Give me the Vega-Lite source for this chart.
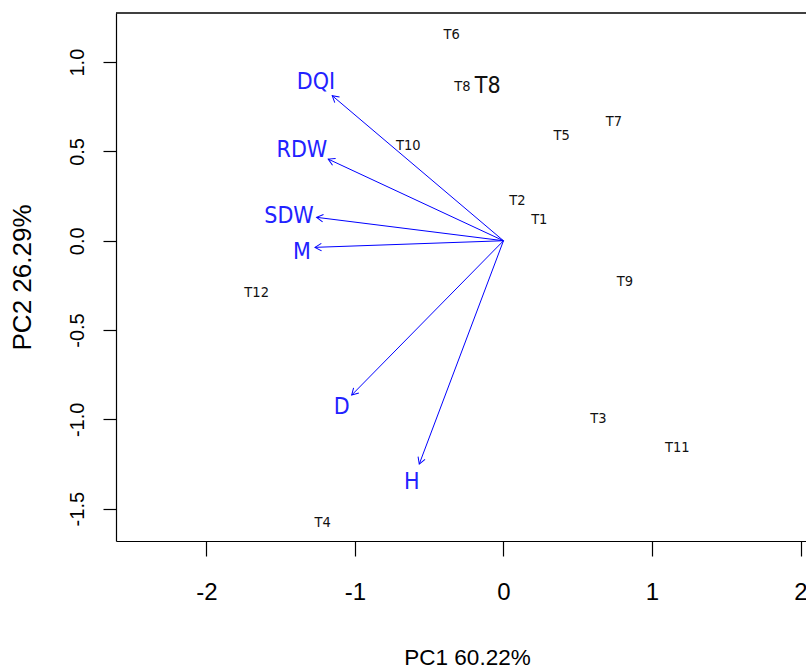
{
  "$schema": "https://vega.github.io/schema/vega-lite/v6.json",
  "width": 690,
  "height": 528,
  "autosize": {"type": "none"},
  "padding": {"left": 116, "top": 13, "right": 0, "bottom": 130},
  "background": "white",
  "config": {
    "view": {"stroke": null},
    "axis": {"grid": false, "domainColor": "#000", "tickColor": "#000", "labelColor": "#000", "titleColor": "#000", "domainWidth": 1.2, "tickWidth": 1.2, "titleFontWeight": "normal"}
  },
  "datasets": {
    "obs": [
      {"label": "T1", "x": 0.241, "y": 0.116, "emph": "no"},
      {"label": "T2", "x": 0.093, "y": 0.222, "emph": "no"},
      {"label": "T3", "x": 0.639, "y": -1.0, "emph": "no"},
      {"label": "T4", "x": -1.218, "y": -1.582, "emph": "no"},
      {"label": "T5", "x": 0.392, "y": 0.586, "emph": "no"},
      {"label": "T6", "x": -0.349, "y": 1.152, "emph": "no"},
      {"label": "T7", "x": 0.744, "y": 0.663, "emph": "no"},
      {"label": "T8", "x": -0.277, "y": 0.859, "emph": "no"},
      {"label": "T8", "x": -0.106, "y": 0.866, "emph": "yes"},
      {"label": "T9", "x": 0.818, "y": -0.23, "emph": "no"},
      {"label": "T10", "x": -0.641, "y": 0.53, "emph": "no"},
      {"label": "T11", "x": 1.171, "y": -1.163, "emph": "no"},
      {"label": "T12", "x": -1.662, "y": -0.291, "emph": "no"}
    ],
    "vars": [
      {"var": "DQI", "x": -1.153, "y": 0.812, "lx": -1.263, "ly": 0.89},
      {"var": "RDW", "x": -1.18, "y": 0.457, "lx": -1.357, "ly": 0.508},
      {"var": "SDW", "x": -1.258, "y": 0.131, "lx": -1.444, "ly": 0.138},
      {"var": "M", "x": -1.269, "y": -0.037, "lx": -1.357, "ly": -0.063},
      {"var": "D", "x": -1.022, "y": -0.864, "lx": -1.09, "ly": -0.929},
      {"var": "H", "x": -0.567, "y": -1.25, "lx": -0.618, "ly": -1.349}
    ],
    "frame": [
      {"edge": 1.275}
    ]
  },
  "layer": [
    {
      "data": {"name": "obs"},
      "transform": [{"filter": "datum.emph == 'no'"}],
      "mark": {"type": "text", "font": "DejaVu Sans Condensed, Liberation Sans", "fontSize": 14.5, "color": "#111", "align": "center", "baseline": "middle"},
      "encoding": {
        "x": {"field": "x", "type": "quantitative", "scale": {"domain": [-2.609, 2.037], "nice": false, "zero": false},
          "axis": {"orient": "bottom", "values": [-2, -1, 0, 1, 2], "labelExpr": "datum.value < 0 ? '-' + abs(datum.value) : '' + datum.value", "tickSize": 15, "labelFont": "Liberation Sans, Arial", "labelFontSize": 24, "labelPadding": 24, "labelBaseline": "top", "title": "PC1 60.22%", "titleFont": "Liberation Sans, Arial", "titleFontSize": 22.5, "titleX": 351, "titleY": 116, "titleAlign": "center", "titleBaseline": "middle"}},
        "y": {"field": "y", "type": "quantitative", "scale": {"domain": [-1.681, 1.275], "nice": false, "zero": false},
          "axis": {"orient": "left", "values": [-1.5, -1, -0.5, 0, 0.5, 1], "labelExpr": "datum.value < 0 ? '-' + format(abs(datum.value), '.1f') : format(datum.value, '.1f')", "tickSize": 13, "labelAngle": -90, "labelAlign": "center", "labelBaseline": "bottom", "labelFont": "Liberation Sans, Arial", "labelFontSize": 20, "labelPadding": 16, "title": "PC2 26.29%", "titleFont": "Liberation Sans, Arial", "titleFontSize": 26, "titleAngle": -90, "titleX": -94, "titleY": 264, "titleAlign": "center", "titleBaseline": "middle"}},
        "text": {"field": "label"}
      }
    },
    {
      "data": {"name": "obs"},
      "transform": [{"filter": "datum.emph == 'yes'"}],
      "mark": {"type": "text", "font": "DejaVu Sans Condensed, Liberation Sans", "fontSize": 23, "color": "#111", "align": "center", "baseline": "middle"},
      "encoding": {
        "x": {"field": "x", "type": "quantitative"},
        "y": {"field": "y", "type": "quantitative"},
        "text": {"field": "label"}
      }
    },
    {
      "data": {"name": "frame"},
      "mark": {"type": "rule", "color": "#000", "strokeWidth": 1.5},
      "encoding": {
        "y": {"field": "edge", "type": "quantitative"}
      }
    },
    {
      "mark": {"type": "rule", "color": "#000", "strokeDash": [2, 3], "strokeWidth": 1.2},
      "encoding": {
        "x": {"datum": 0, "type": "quantitative"}
      }
    },
    {
      "mark": {"type": "rule", "color": "#000", "strokeDash": [2, 3], "strokeWidth": 1.2},
      "encoding": {
        "y": {"datum": 0, "type": "quantitative"}
      }
    },
    {
      "data": {"name": "vars"},
      "mark": {"type": "rule", "color": "#0000FF", "strokeWidth": 1},
      "encoding": {
        "x": {"field": "x", "type": "quantitative"},
        "y": {"field": "y", "type": "quantitative"},
        "x2": {"datum": 0},
        "y2": {"datum": 0}
      }
    },
    {
      "data": {"name": "vars"},
      "transform": [{"calculate": "(atan2(datum.x * 148.5, datum.y * 178.6) * 180 / PI + 360) % 360", "as": "ang"}],
      "mark": {"type": "point", "shape": "M -0.5 0.87 L 0 0 L 0.5 0.87", "filled": false, "color": "#0000FF", "strokeWidth": 1, "size": 220, "opacity": 1},
      "encoding": {
        "x": {"field": "x", "type": "quantitative"},
        "y": {"field": "y", "type": "quantitative"},
        "angle": {"field": "ang", "type": "quantitative", "scale": null}
      }
    },
    {
      "data": {"name": "vars"},
      "mark": {"type": "text", "font": "DejaVu Sans Condensed, Liberation Sans", "fontSize": 23, "color": "#2222FF", "align": "center", "baseline": "middle"},
      "encoding": {
        "x": {"field": "lx", "type": "quantitative"},
        "y": {"field": "ly", "type": "quantitative"},
        "text": {"field": "var"}
      }
    }
  ]
}
